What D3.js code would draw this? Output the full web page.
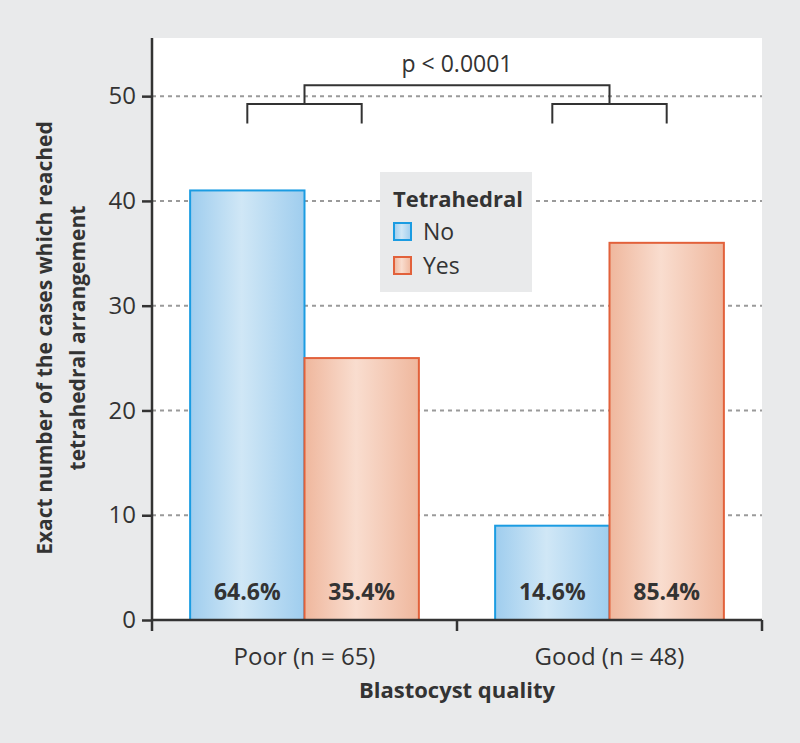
<!DOCTYPE html>
<html>
<head>
<meta charset="utf-8">
<script src="https://cdn.jsdelivr.net/npm/d3@7"></script>
<style>
  body { margin: 0; background: #e9eaeb; }
  svg { display: block; font-family: "Open Sans", sans-serif; }
</style>
</head>
<body>
<script>
// data
var categories = ["Poor (n = 65)", "Good (n = 48)"];
var seriesNames = ["No", "Yes"];
var noValues = [41, 9];
var yesValues = [25, 36];
var noPct = ["64.6%", "14.6%"];
var yesPct = ["35.4%", "85.4%"];
var yTicks = [0, 10, 20, 30, 40, 50];

var W = 800, H = 743;
var margin = {top: 38, right: 38, bottom: 123, left: 152},
    width = W - margin.left - margin.right,
    height = H - margin.top - margin.bottom;

var svg = d3.select("body").append("svg")
    .attr("width", W)
    .attr("height", H);

var defs = svg.append("defs");
function grad(id, edge, mid) {
    var g = defs.append("linearGradient").attr("id", id)
        .attr("x1", "0%").attr("x2", "100%").attr("y1", "0%").attr("y2", "0%");
    g.append("stop").attr("offset", "0%").attr("stop-color", edge);
    g.append("stop").attr("offset", "45%").attr("stop-color", mid);
    g.append("stop").attr("offset", "100%").attr("stop-color", edge);
}
grad("gNo", "#9fcdee", "#d0e7f6");
grad("gYes", "#efb79d", "#f9ddcf");
var fills = {No: "url(#gNo)", Yes: "url(#gYes)"};
var strokes = {No: "#1b9ce2", Yes: "#e2613b"};

var g = svg.append("g")
    .attr("transform", "translate(" + margin.left + "," + margin.top + ")");

// white plot area
g.append("rect")
    .attr("width", width)
    .attr("height", height)
    .attr("fill", "#fff");

var x0 = d3.scaleBand()
    .domain(categories)
    .range([0, width])
    .paddingInner(0.25)
    .paddingOuter(0.125);

var x1 = d3.scaleBand()
    .domain(seriesNames)
    .range([0, x0.bandwidth()]);

var y = d3.scaleLinear()
    .domain([0, 55.55])
    .range([height, 0]);

// gridlines
g.selectAll(".grid")
    .data(yTicks.filter(function(d) { return d > 0; }))
    .enter().append("line")
    .attr("x1", 0).attr("x2", width)
    .attr("y1", function(d) { return y(d); })
    .attr("y2", function(d) { return y(d); })
    .attr("stroke", "#9a9a9a")
    .attr("stroke-width", 2)
    .attr("stroke-dasharray", "4,4");

var rows = categories.map(function(c, i) {
    return {cat: c, vals: [
        {key: "No", v: noValues[i], pct: noPct[i]},
        {key: "Yes", v: yesValues[i], pct: yesPct[i]}
    ]};
});

var grp = g.selectAll(".grp")
    .data(rows)
    .enter().append("g")
    .attr("transform", function(d) { return "translate(" + x0(d.cat) + ",0)"; });

grp.selectAll("rect")
    .data(function(d) { return d.vals; })
    .enter().append("rect")
    .attr("x", function(d) { return x1(d.key); })
    .attr("y", function(d) { return y(d.v); })
    .attr("width", x1.bandwidth())
    .attr("height", function(d) { return height - y(d.v); })
    .attr("fill", function(d) { return fills[d.key]; })
    .attr("stroke", function(d) { return strokes[d.key]; })
    .attr("stroke-width", 2);

grp.selectAll(".pct")
    .data(function(d) { return d.vals; })
    .enter().append("text")
    .attr("x", function(d) { return x1(d.key) + x1.bandwidth() / 2; })
    .attr("y", height - 20)
    .attr("text-anchor", "middle")
    .attr("font-weight", "bold")
    .attr("font-size", 23)
    .attr("fill", "#333")
    .text(function(d) { return d.pct; });

// axes
var yAxis = d3.axisLeft(y).tickValues(yTicks).tickSize(10).tickPadding(6);
var ya = g.append("g").call(yAxis);
ya.select(".domain").attr("stroke", "#333").attr("stroke-width", 2.5).attr("d", "M0," + height + "V0");
ya.selectAll(".tick line").attr("stroke", "#333").attr("stroke-width", 2.5);
ya.selectAll(".tick text").attr("font-size", 24).attr("fill", "#333")
    .attr("font-family", "Open Sans, sans-serif");

var xa = g.append("g").attr("transform", "translate(0," + height + ")");
xa.append("line").attr("x1", 0).attr("x2", width)
    .attr("stroke", "#333").attr("stroke-width", 2.5);
xa.selectAll(".xt")
    .data([0, width / 2, width])
    .enter().append("line")
    .attr("x1", function(d) { return d; })
    .attr("x2", function(d) { return d; })
    .attr("y1", 0).attr("y2", 11)
    .attr("stroke", "#333").attr("stroke-width", 2.5);
xa.selectAll(".xl")
    .data(categories)
    .enter().append("text")
    .attr("x", function(d) { return x0(d) + x0.bandwidth() / 2; })
    .attr("y", 45)
    .attr("text-anchor", "middle")
    .attr("font-size", 24)
    .attr("fill", "#333")
    .text(function(d) { return d; });

// axis titles
svg.append("text")
    .attr("x", margin.left + width / 2)
    .attr("y", 698)
    .attr("text-anchor", "middle")
    .attr("font-weight", "bold")
    .attr("font-size", 22)
    .attr("fill", "#333")
    .text("Blastocyst quality");

var yl = svg.append("text")
    .attr("transform", "translate(52,338) rotate(-90)")
    .attr("text-anchor", "middle")
    .attr("font-weight", "bold")
    .attr("font-size", 21)
    .attr("fill", "#333");
yl.append("tspan").attr("x", 0).attr("y", 0).text("Exact number of the cases which reached");
yl.append("tspan").attr("x", 0).attr("y", 33).text("tetrahedral arrangement");

// significance brackets
var legY = 47.4, smallY = 49.25, bigY = 51.05;
var bk = g.append("g").attr("fill", "none").attr("stroke", "#333").attr("stroke-width", 2);
var mids = categories.map(function(c) { return x0(c) + x0.bandwidth() / 2; });
categories.forEach(function(c) {
    var a = x0(c) + x1("No") + x1.bandwidth() / 2,
        b = x0(c) + x1("Yes") + x1.bandwidth() / 2;
    bk.append("path").attr("d",
        "M" + a + "," + y(legY) + "V" + y(smallY) + "H" + b + "V" + y(legY));
});
bk.append("path").attr("d",
    "M" + mids[0] + "," + y(smallY) + "V" + y(bigY) + "H" + mids[1] + "V" + y(smallY));
g.append("text")
    .attr("x", (mids[0] + mids[1]) / 2)
    .attr("y", y(bigY) - 13)
    .attr("text-anchor", "middle")
    .attr("font-size", 23)
    .attr("fill", "#333")
    .text("p < 0.0001");

// legend
var lg = svg.append("g").attr("transform", "translate(380,172)");
lg.append("rect").attr("width", 152).attr("height", 120).attr("fill", "#e9eaeb");
lg.append("text").attr("x", 13).attr("y", 35)
    .attr("font-weight", "bold").attr("font-size", 22).attr("fill", "#333")
    .text("Tetrahedral");
seriesNames.forEach(function(s, i) {
    lg.append("rect")
        .attr("x", 14).attr("y", 51 + i * 34)
        .attr("width", 17).attr("height", 17)
        .attr("fill", fills[s]).attr("stroke", strokes[s]).attr("stroke-width", 2);
    lg.append("text").attr("x", 43).attr("y", 68 + i * 34)
        .attr("font-size", 23).attr("fill", "#333")
        .text(s);
});
</script>
</body>
</html>
